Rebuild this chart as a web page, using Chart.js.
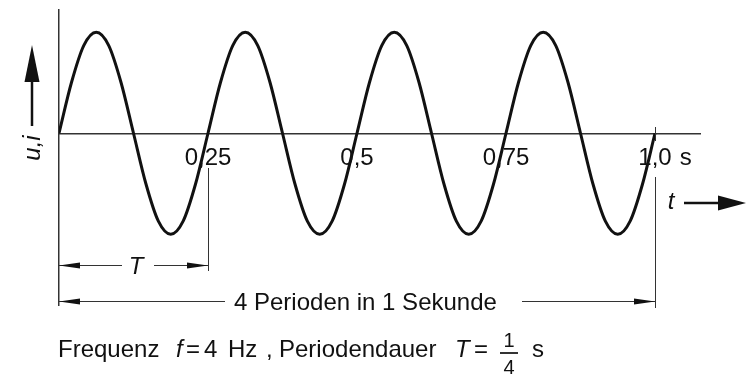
<!DOCTYPE html>
<html>
<head>
<meta charset="utf-8">
<script src="https://cdn.jsdelivr.net/npm/chart.js@4"></script>
<style>
  body { margin: 0; background: #fff; }
  canvas { display: block; }
</style>
</head>
<body>
<canvas id="wave-chart" width="750" height="375"></canvas>
<script>
const TIMES = [
  0, 0.0208, 0.0417, 0.0625, 0.0833, 0.1042, 0.125, 0.1458, 0.1667, 0.1875, 0.2083, 0.2292,
  0.25, 0.2708, 0.2917, 0.3125, 0.3333, 0.3542, 0.375, 0.3958, 0.4167, 0.4375, 0.4583, 0.4792,
  0.5, 0.5208, 0.5417, 0.5625, 0.5833, 0.6042, 0.625, 0.6458, 0.6667, 0.6875, 0.7083, 0.7292,
  0.75, 0.7708, 0.7917, 0.8125, 0.8333, 0.8542, 0.875, 0.8958, 0.9167, 0.9375, 0.9583, 0.9792,
  1.0
];
const VALUES = [
  0, 0.5, 0.87, 1, 0.87, 0.5, 0, -0.5, -0.87, -1, -0.87, -0.5,
  0, 0.5, 0.87, 1, 0.87, 0.5, 0, -0.5, -0.87, -1, -0.87, -0.5,
  0, 0.5, 0.87, 1, 0.87, 0.5, 0, -0.5, -0.87, -1, -0.87, -0.5,
  0, 0.5, 0.87, 1, 0.87, 0.5, 0, -0.5, -0.87, -1, -0.87, -0.5,
  0
];
const TICK_VALUES = [0.25, 0.5, 0.75, 1.0];
const TICK_LABELS = ['0,25', '0,5', '0,75', '1,0'];

const FONT = '"Liberation Sans", Arial, sans-serif';
const INK = '#111';

function arrowHead(ctx, x, y, dir, len, half) {
  // dir: 'up' | 'left' | 'right'
  ctx.beginPath();
  ctx.moveTo(x, y);
  if (dir === 'up') {
    ctx.lineTo(x - half, y + len);
    ctx.lineTo(x + half, y + len);
  } else if (dir === 'left') {
    ctx.lineTo(x + len, y - half);
    ctx.lineTo(x + len, y + half);
  } else {
    ctx.lineTo(x - len, y - half);
    ctx.lineTo(x - len, y + half);
  }
  ctx.closePath();
  ctx.fill();
}

function hLine(ctx, x1, x2, y) {
  ctx.beginPath();
  ctx.moveTo(x1, y);
  ctx.lineTo(x2, y);
  ctx.stroke();
}

function vLine(ctx, x, y1, y2) {
  ctx.beginPath();
  ctx.moveTo(x, y1);
  ctx.lineTo(x, y2);
  ctx.stroke();
}

const annotations = {
  id: 'annotations',
  afterDraw(chart) {
    const ctx = chart.ctx;
    const xs = chart.scales.x;
    const x0 = xs.getPixelForValue(0);
    const xT = xs.getPixelForValue(0.25);
    const x1 = xs.getPixelForValue(1.0);

    ctx.save();
    ctx.fillStyle = INK;
    ctx.strokeStyle = INK;

    // unit after the last tick label
    ctx.font = '24px ' + FONT;
    ctx.textBaseline = 'alphabetic';
    ctx.textAlign = 'left';
    ctx.fillText('s', x1 + ctx.measureText('1,0').width / 2 + 8, 165);

    // y axis label with arrow
    ctx.lineWidth = 2.5;
    vLine(ctx, 32, 126, 78);
    arrowHead(ctx, 32, 45, 'up', 37, 7.5);
    ctx.save();
    ctx.translate(33, 148);
    ctx.rotate(-Math.PI / 2);
    ctx.font = 'italic 24px ' + FONT;
    ctx.textAlign = 'center';
    ctx.textBaseline = 'middle';
    ctx.fillText('u,i', 0, 0);
    ctx.restore();

    // t label with arrow
    ctx.font = 'italic 24px ' + FONT;
    ctx.textAlign = 'center';
    ctx.textBaseline = 'middle';
    ctx.fillText('t', 671, 202);
    hLine(ctx, 684, 722, 203);
    arrowHead(ctx, 746, 203, 'right', 28, 7.5);

    // extension lines
    ctx.lineWidth = 1;
    ctx.strokeStyle = '#333';
    vLine(ctx, Math.round(xT) + 0.5, 168, 271);
    vLine(ctx, Math.round(x1) + 0.5, 177, 308);
    vLine(ctx, Math.round(x1) + 0.5, 127, 141);

    // T dimension
    hLine(ctx, x0, 122, 265.5);
    hLine(ctx, 154, xT, 265.5);
    arrowHead(ctx, x0, 265.5, 'left', 21, 3);
    arrowHead(ctx, xT, 265.5, 'right', 21, 3);
    ctx.font = 'italic 24px ' + FONT;
    ctx.textAlign = 'center';
    ctx.textBaseline = 'alphabetic';
    ctx.fillText('T', 136, 274);

    // 4 periods dimension
    hLine(ctx, x0, 225, 301.5);
    hLine(ctx, 522, x1, 301.5);
    arrowHead(ctx, x0, 301.5, 'left', 21, 3);
    arrowHead(ctx, x1, 301.5, 'right', 21, 3);
    ctx.font = '24px ' + FONT;
    ctx.textAlign = 'left';
    ctx.fillText('4 Perioden in 1 Sekunde', 234, 310);

    // caption
    const base = 357;
    ctx.font = '24px ' + FONT;
    ctx.fillText('Frequenz', 58, base);
    ctx.font = 'italic 24px ' + FONT;
    ctx.fillText('f', 176, base);
    ctx.font = '24px ' + FONT;
    ctx.fillText('=', 186, base);
    ctx.fillText('4', 204, base);
    ctx.fillText('Hz', 228, base);
    ctx.fillText(',', 266, base);
    ctx.fillText('Periodendauer', 279, base);
    ctx.font = 'italic 24px ' + FONT;
    ctx.fillText('T', 455, base);
    ctx.font = '24px ' + FONT;
    ctx.fillText('=', 474, base);
    ctx.lineWidth = 2;
    hLine(ctx, 500, 518, 353);
    ctx.textAlign = 'center';
    ctx.font = '20px ' + FONT;
    ctx.fillText('1', 509, 347);
    ctx.fillText('4', 509, 374);
    ctx.font = '24px ' + FONT;
    ctx.textAlign = 'left';
    ctx.fillText('s', 532, base);

    ctx.restore();
  }
};

function addWaveChart() {
  const ctx = document.getElementById('wave-chart');

  if (!ctx) {
    return;
  }

  const points = TIMES.map((t, i) => ({ x: t, y: VALUES[i] }));

  new Chart(ctx, {
    type: 'line',
    data: {
      datasets: [{
        data: points,
        borderColor: INK,
        borderWidth: 3,
        pointRadius: 0,
        fill: false,
        cubicInterpolationMode: 'monotone',
      }]
    },
    options: {
      responsive: false,
      animation: false,
      layout: {
        padding: { left: 59, top: 10, right: 50, bottom: 70 }
      },
      plugins: {
        legend: { display: false },
        tooltip: { enabled: false }
      },
      scales: {
        x: {
          type: 'linear',
          min: 0,
          max: 1.0755,
          position: { y: 0 },
          grid: { display: false },
          border: { display: true, color: '#333', width: 1.5 },
          afterBuildTicks: (scale) => {
            scale.ticks = TICK_VALUES.map(v => ({ value: v }));
          },
          ticks: {
            autoSkip: false,
            maxRotation: 0,
            padding: 3,
            color: INK,
            font: { family: FONT, size: 24 },
            callback: (value, index) => TICK_LABELS[index]
          }
        },
        y: {
          type: 'linear',
          min: -1.70,
          max: 1.22,
          position: { x: 0 },
          grid: { display: false },
          border: { display: true, color: '#333', width: 1.5 },
          ticks: { display: false }
        }
      }
    },
    plugins: [annotations]
  });
}

addWaveChart();
</script>
</body>
</html>
